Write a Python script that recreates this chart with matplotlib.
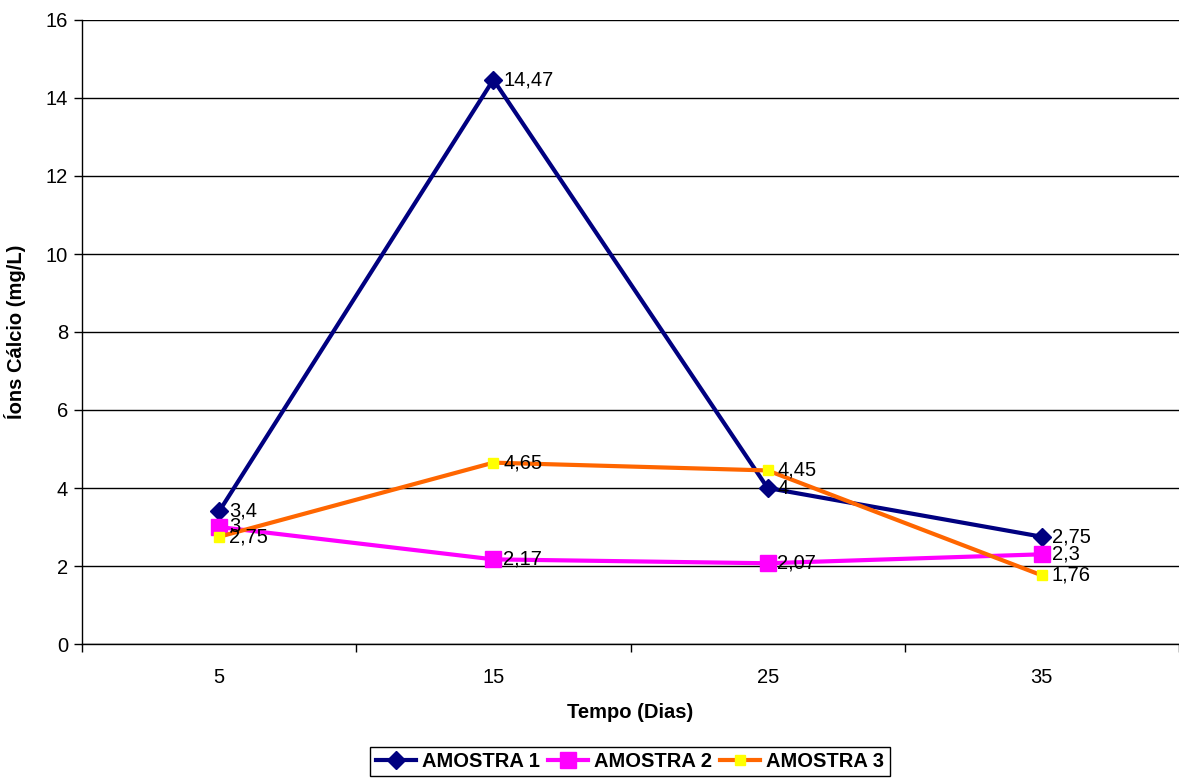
import matplotlib
matplotlib.use("Agg")
import matplotlib.pyplot as plt
from matplotlib.ticker import FixedLocator

plt.rcParams['font.family'] = ['Liberation Sans', 'DejaVu Sans']

dias = ['5', '15', '25', '35']
amostra1 = [3.4, 14.47, 4.0, 2.75]
amostra2 = [3.0, 2.17, 2.07, 2.3]
amostra3 = [2.75, 4.65, 4.45, 1.76]
yticks = [0, 2, 4, 6, 8, 10, 12, 14, 16]

def fmt(v):
    s = ('%.2f' % v).rstrip('0').rstrip('.')
    return s.replace('.', ',')

FS = 14.5

fig = plt.figure(figsize=(11.79, 7.8), dpi=100)
ax = fig.add_axes([82/1179, 136/780, 1 - 82/1179, (644-20)/780])

x = list(range(len(dias)))
series = [
    ('AMOSTRA 1', amostra1, dict(color='#000080', marker='D', markersize=9,
                                  markerfacecolor='#000080', markeredgecolor='#000080')),
    ('AMOSTRA 2', amostra2, dict(color='#FF00FF', marker='s', markersize=11,
                                  markerfacecolor='#FF00FF', markeredgecolor='#FF00FF')),
    ('AMOSTRA 3', amostra3, dict(color='#FF6600', marker='s', markersize=7,
                                  markerfacecolor='#FFFF00', markeredgecolor='#FFFF00')),
]
for i, (name, vals, st) in enumerate(series):
    ax.plot(x, vals, lw=3, label=name, zorder=3 + i, clip_on=False, **st)

for name, vals, st in series:
    for xi, v in zip(x, vals):
        ax.annotate(fmt(v), (xi, v), xytext=(7, 0), textcoords='offset points',
                    ha='left', va='center', fontsize=FS, color='black', zorder=10)

ax.set_xlim(-0.5, 3.5)
ax.set_ylim(0, 16)
ax.set_xticks(x)
ax.set_xticklabels(dias, fontsize=FS)
ax.xaxis.set_minor_locator(FixedLocator([-0.5, 0.5, 1.5, 2.5, 3.5]))
ax.tick_params(axis='x', which='major', length=0, pad=17)
ax.tick_params(axis='x', which='minor', length=6, direction='out', width=1)
ax.set_yticks(yticks)
ax.set_yticklabels([str(t) for t in yticks], fontsize=FS)
ax.tick_params(axis='y', length=6, direction='out', width=1, pad=4)

ax.grid(axis='y', color='black', lw=1)
ax.set_axisbelow(True)
for s in ['top', 'right']:
    ax.spines[s].set_visible(False)
for s in ['left', 'bottom']:
    ax.spines[s].set_color('black')
    ax.spines[s].set_linewidth(1)

ax.set_xlabel('Tempo (Dias)', fontsize=FS, fontweight='bold', labelpad=12)
ax.set_ylabel('Íons Cálcio (mg/L)', fontsize=FS, fontweight='bold', labelpad=14)

leg = fig.legend(loc='upper center', bbox_to_anchor=(630/1179, 1 - 747/780), ncol=3,
                 frameon=True, fancybox=False, edgecolor='black', framealpha=1,
                 prop={'size': FS, 'weight': 'bold'}, handlelength=2.0,
                 handletextpad=0.3, columnspacing=0.4, borderpad=0.25,
                 borderaxespad=0)
leg.get_frame().set_linewidth(1)

fig.savefig('out.png', dpi=100)
